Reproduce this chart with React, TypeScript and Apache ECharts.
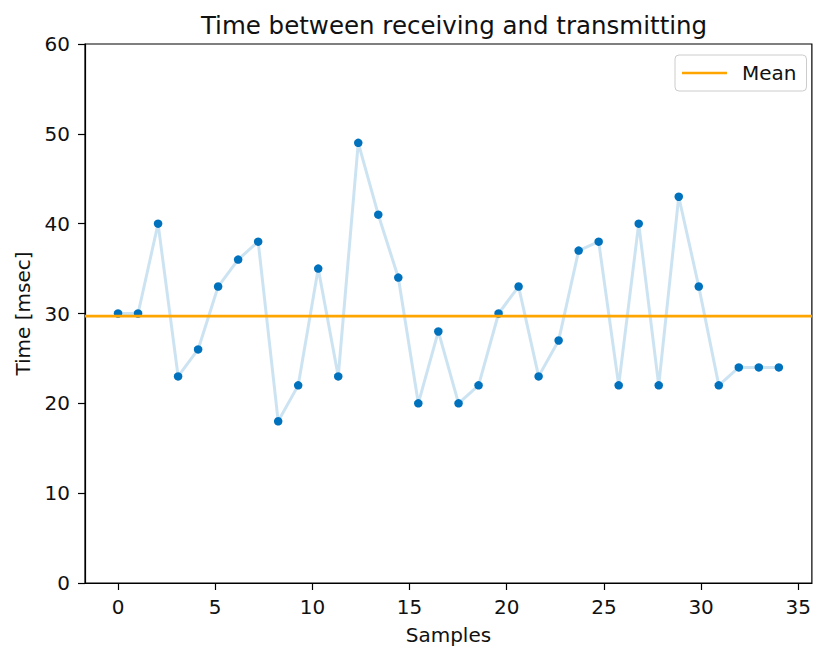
import React, { useEffect, useRef } from "react";
import * as echarts from "echarts";

const sampleX = [0, 1.03, 2.06, 3.09, 4.12, 5.15, 6.18, 7.21, 8.24, 9.27, 10.3, 11.33, 12.36, 13.39, 14.42, 15.45, 16.48, 17.52, 18.55, 19.58, 20.61, 21.64, 22.67, 23.7, 24.73, 25.76, 26.79, 27.82, 28.85, 29.88, 30.91, 31.94, 32.97, 34];
const timesMs = [30, 30, 40, 23, 26, 33, 36, 38, 18, 22, 35, 23, 49, 41, 34, 20, 28, 20, 22, 30, 33, 23, 27, 37, 38, 22, 40, 22, 43, 33, 22, 24, 24, 24];
const xTicks = [0, 5, 10, 15, 20, 25, 30, 35];
const yTicks = [0, 10, 20, 30, 40, 50, 60];

const X_MIN = -1.7;
const X_MAX = 35.7;
const FONT = "DejaVu Sans";

export default function App() {
  const ref = useRef<HTMLDivElement>(null);
  useEffect(() => {
    document.body.style.margin = "0";
    const chart = echarts.init(ref.current!, null, { renderer: "svg" });
    const mean = timesMs.reduce((a, b) => a + b, 0) / timesMs.length;
    const pts = sampleX.map((x, i) => [x, timesMs[i]]);
    chart.setOption({
      animation: false,
      backgroundColor: "#fff",
      textStyle: { fontFamily: FONT },
      title: {
        text: "Time between receiving and transmitting",
        left: 449,
        textAlign: "center",
        top: 8,
        textStyle: { fontFamily: FONT, fontSize: 24.5, fontWeight: "normal", color: "#111" },
      },
      legend: {
        left: 675,
        top: 55,
        padding: [8, 10, 8, 7],
        backgroundColor: "#fff",
        borderColor: "#ccc",
        borderWidth: 1,
        borderRadius: 4,
        itemWidth: 45,
        itemHeight: 2.5,
        data: [{ name: "Mean", icon: "rect" }],
        textStyle: { fontFamily: FONT, fontSize: 20, color: "#111", padding: [0, 0, 0, 10] },
      },
      grid: {
        left: 85,
        right: 1,
        top: 44,
        bottom: 62.5,
        show: true,
        borderColor: "#000",
        borderWidth: 1.2,
        containLabel: false,
      },
      xAxis: {
        type: "value",
        min: X_MIN,
        max: X_MAX,
        name: "Samples",
        nameLocation: "middle",
        nameGap: 42,
        nameTextStyle: { fontFamily: FONT, fontSize: 20, color: "#111" },
        splitLine: { show: false },
        axisLine: { show: true, onZero: false, lineStyle: { color: "#000", width: 1.2 } },
        axisTick: { show: true, length: 7, inside: false, customValues: xTicks, lineStyle: { color: "#000", width: 1.2 } },
        axisLabel: { customValues: xTicks, margin: 14, fontFamily: FONT, fontSize: 20, color: "#111" },
      },
      yAxis: {
        type: "value",
        min: 0,
        max: 60,
        interval: 10,
        name: "Time [msec]",
        nameLocation: "middle",
        nameGap: 52,
        nameTextStyle: { fontFamily: FONT, fontSize: 20, color: "#111" },
        splitLine: { show: false },
        axisLine: { show: true, onZero: false, lineStyle: { color: "#000", width: 1.2 } },
        axisTick: { show: true, length: 7, customValues: yTicks, lineStyle: { color: "#000", width: 1.2 } },
        axisLabel: { customValues: yTicks, margin: 15, fontFamily: FONT, fontSize: 20, color: "#111" },
      },
      series: [
        {
          name: "trace",
          type: "line",
          data: pts,
          showSymbol: false,
          symbol: "none",
          lineStyle: { color: "rgba(0,114,189,0.2)", width: 3 },
          z: 2,
        },
        {
          name: "samples",
          type: "scatter",
          data: pts,
          symbolSize: 8.5,
          itemStyle: { color: "#0072BD", opacity: 1 },
          z: 3,
        },
        {
          name: "Mean",
          type: "line",
          data: [[X_MIN, mean], [X_MAX, mean]],
          showSymbol: false,
          symbol: "none",
          color: "#FFA500",
          lineStyle: { color: "#FFA500", width: 2.6 },
          itemStyle: { color: "#FFA500" },
          z: 4,
        },
      ],
    });
    return () => chart.dispose();
  }, []);
  return <div ref={ref} style={{ position: "absolute", left: 0, top: 0, width: 814, height: 650 }} />;
}
